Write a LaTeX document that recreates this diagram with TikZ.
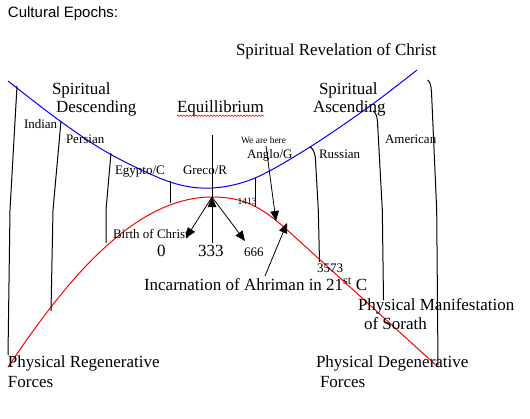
\documentclass[tikz,border=0pt]{standalone}
\usepackage{fontspec}
\setmainfont{Liberation Serif}
\newfontfamily\arialf{Liberation Sans}
\usetikzlibrary{arrows.meta,decorations.pathmorphing,calc}
\begin{document}
\begin{tikzpicture}[x=1pt,y=-1pt,
  lbl/.style={anchor=base west, inner sep=0pt, outer sep=0pt},
  big/.style={lbl, font=\fontsize{17}{17}\selectfont},
  med/.style={lbl, font=\fontsize{13}{13}\selectfont},
  sml/.style={lbl, font=\fontsize{9.5}{9.5}\selectfont},
  epoch/.style={black, line width=1pt},
  arr/.style={black, line width=0.8pt, -{Triangle[length=10pt,width=8.5pt]}},
  spir/.style={blue, line width=1pt},
  phys/.style={red, line width=1pt}]
\useasboundingbox (0,0) rectangle (530,418);
% named points
\coordinate (apex) at (212,197);
\coordinate (ctop) at (212,135);
\coordinate (cbot) at (212,243);
\coordinate (birth) at (186,238);
\coordinate (six) at (245,241);
\coordinate (herestart) at (266,146);
\coordinate (hereend) at (276,221);
\coordinate (ahrstart) at (265,276);
\coordinate (ahrend) at (287,223);
\coordinate (regend) at (8,367);
\coordinate (degend) at (438,367);
% curves
\draw[spir] plot[smooth, tension=0.55] coordinates {(8,81) (60,121) (110,154) (170,182) (212,188) (255,178) (310,147) (370,106) (417,70)};
\draw[phys] (regend) .. controls (60,290) and (130,197) .. (apex)
  .. controls (245,197) and (262,208) .. (285,228) -- (degend);
% epoch dividers
\draw[epoch] (17,86) -- (10,210) -- (8,355);
\draw[epoch] (61,121) -- (53,210) -- (51,311);
\draw[epoch] (111,153) -- (106,210) -- (106,243);
\draw[epoch] (170,181) -- (170,203);
\draw[epoch] (255,178) -- (255,207);
\draw[epoch] (310,146.7) .. controls (313,149) and (315,152) .. (315.5,160) -- (318.3,210) -- (319.5,262);
\draw[epoch] (373,111) .. controls (375.5,112.5) and (377,115) .. (377.5,122) -- (382.3,210) -- (383.5,300);
\draw[epoch] (427.7,80) .. controls (430,82) and (431,85) .. (431.5,92) -- (436.7,210) -- (438,365);
% centre and arrows
\draw[epoch] (ctop) -- (apex);
\draw[arr] (cbot) -- (apex);
\draw[arr] (apex) -- (birth);
\draw[arr] (apex) -- (six);
\draw[arr] (herestart) -- (hereend);
\draw[arr] (ahrstart) -- (ahrend);
% texts
\node[lbl, font=\arialf\fontsize{15}{15}\selectfont] (title) at (8,17) {Cultural Epochs:};
\node[big] (rev) at (236,55) {Spiritual Revelation of Christ};
\node[big] (sd1) at (52,94) {Spiritual};
\node[big] (sd2) at (56,112.7) {Descending};
\node[big] (equ) at (177,112.7) {Equillibrium};
\draw[red, line width=0.5pt, decorate, decoration={zigzag, segment length=3pt, amplitude=0.8pt}] ($(equ.base west)+(0,3)$) -- ($(equ.base east)+(0,3)$);
\node[big] (sa1) at (319,94) {Spiritual};
\node[big] (sa2) at (313,112.7) {Ascending};
\node[med] (ind) at (24,128.3) {Indian};
\node[med] (per) at (66,143.3) {Persian};
\node[med] (egy) at (115,174) {Egypto/C};
\node[med] (gre) at (183,174) {Greco/R};
\node[sml] (here) at (241,143.3) {We are here};
\node[med] (ang) at (247,158.3) {Anglo/G};
\node[med] (rus) at (319,158.3) {Russian};
\node[med] (ame) at (385,143.3) {American};
\node[sml] (y1413) at (237.5,204) {1413};
\node[med] (boc) at (113,238.3) {Birth of Christ};
\node[big] (y0) at (157,256.5) {0};
\node[big] (y333) at (198,256.5) {333};
\node[med] (y666) at (244,256.5) {666};
\node[med] (y3573) at (317,272.7) {3573};
\node[big] (ahr) at (144,290.7) {Incarnation of Ahriman in 21\textsuperscript{st} C};
\node[big] (sor1) at (358,310.7) {Physical Manifestation};
\node[big] (sor2) at (364,329.3) {of Sorath};
\node[big] (reg1) at (8,367.3) {Physical Regenerative};
\node[big] (reg2) at (8,387.3) {Forces};
\node[big] (deg1) at (316,367.3) {Physical Degenerative};
\node[big] (deg2) at (320,387.3) {Forces};
\end{tikzpicture}
\end{document}
